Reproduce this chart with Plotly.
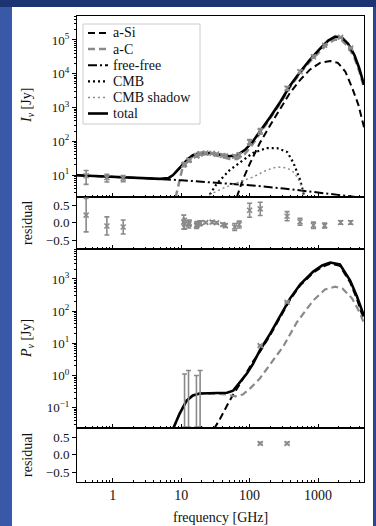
import plotly.graph_objects as go
from plotly.subplots import make_subplots

# ---------------- data (frequency in GHz, flux in Jy) ----------------
# total intensity model components
tot_f = [0.3, 1.0, 2.5, 4.9, 6.5, 7.6, 8.9, 10.5, 12.6, 14.8, 18.6, 26.3, 37, 51, 66, 85, 110, 141,
         200, 282, 389, 550, 760, 1070, 1410, 1780, 2240, 2750, 3390, 3980, 4700]
tot_I = [9.9, 9.0, 8.2, 7.7, 8.1, 10.0, 14.1, 20, 30, 39, 45, 45, 41, 36, 39, 55, 95, 190,
         525, 1480, 4400, 11500, 25700, 55000, 95500, 126000, 117000, 77600, 36300, 15100, 4700]

aC_f = [8.3, 9.1, 10.0, 10.5, 12.6, 14.8, 18.6, 26.3, 37, 51, 66, 85, 110, 141,
        200, 282, 389, 550, 760, 1070, 1410, 1780, 2240, 2750, 3390, 3980, 4700]
aC_I = [2.2, 5.0, 12, 17, 26, 35, 41, 41, 36, 30, 30, 42, 80, 165,
        470, 1350, 4000, 10500, 23000, 47000, 80000, 104000, 97000, 64000, 30000, 12500, 3900]

aSi_f = [65, 79, 102, 141, 200, 282, 389, 550, 760, 1070, 1510, 1950, 2510, 3160, 3890, 4700]
aSi_I = [2.2, 7.1, 23, 89, 300, 980, 2700, 6600, 13200, 21000, 24000, 21000, 11500, 3800, 1200, 260]

ff_f = [0.3, 1.0, 3.16, 10, 31.6, 100, 316, 1000, 3160, 4700]
ff_I = [9.8, 8.9, 8.0, 7.0, 6.0, 5.0, 4.0, 3.0, 2.3, 2.1]

cmb_f = [24, 33, 51, 72, 112, 178, 251, 355, 437, 550, 600, 640]
cmb_I = [2.0, 5.5, 14, 23, 45, 63, 63, 48, 23, 7.0, 3.0, 2.0]

shad_f = [22, 40, 71, 112, 178, 251, 355, 457, 550, 590, 620]
shad_I = [2.2, 4.0, 6.3, 8.7, 14, 17.4, 16.2, 11.5, 5.8, 3.0, 2.0]

# total intensity measurements and residuals
obs_f = [0.408, 0.82, 1.42, 10.9, 11.2, 12.9, 13.1, 16.8, 17.0, 18.7, 19.0, 22.8, 28.4, 32.9,
         40.6, 44.1, 60.5, 70.4, 100, 143, 353, 545, 857, 1249, 2141, 2998]
obs_I = [9.5, 8.4, 8.0, 20, 21, 27, 28, 37, 38, 42, 43, 45, 44, 42,
         38, 37, 36, 40, 95, 200, 3700, 11500, 32000, 70000, 120000, 58000]
obs_err = [4.2, 2.2, 1.6, 2.4, 2.0, 2.7, 2.2, 3.0, 3.0, 2.5, 2.6, 1.4, 1.8, 1.3,
           1.5, 1.8, 3.6, 4.0, 18, 38, 480, 1150, 2900, 4900, 6000, 2900]
res_I = [0.22, -0.09, -0.12, 0.02, -0.03, -0.05, 0.0, -0.08, -0.04, -0.02, 0.0, 0.01, 0.02, 0.0,
         -0.05, -0.08, -0.12, -0.05, 0.36, 0.40, 0.19, 0.03, -0.07, -0.08, 0.01, 0.01]
res_I_err = [0.48, 0.26, 0.2, 0.2, 0.15, 0.1, 0.08, 0.08, 0.08, 0.06, 0.06, 0.03, 0.04, 0.03,
             0.04, 0.05, 0.1, 0.1, 0.2, 0.19, 0.13, 0.1, 0.09, 0.07, 0.05, 0.05]

# polarized intensity model components
Ptot_f = [7.6, 9.5, 12.0, 14.8, 18.6, 28.8, 46.8, 57.5, 72.4, 91.2, 112, 141, 200, 282, 389,
          550, 851, 1150, 1510, 2090, 2950, 3720, 4700]
Ptot = [0.022, 0.066, 0.166, 0.24, 0.275, 0.275, 0.29, 0.34, 0.6, 1.15, 2.3, 6.0, 20, 72, 245,
        680, 1700, 2630, 3240, 2820, 890, 280, 70]

PaC_f = [7.6, 9.5, 12.0, 14.8, 18.6, 28.8, 44.7, 61.7, 79.4, 102, 141, 200, 309, 490, 851,
         1260, 1780, 2290, 3160, 4070, 4700]
PaC = [0.022, 0.066, 0.166, 0.24, 0.275, 0.275, 0.26, 0.224, 0.257, 0.40, 0.81, 2.3, 7.9, 45, 214,
       470, 575, 500, 245, 91, 42]

PaSi_f = [30.2, 37.2, 46.8, 57.5, 72.4, 91.2, 112, 141, 200, 282, 389, 550, 851, 1150, 1510,
          2090, 2950, 3720, 4700]
PaSi = [0.022, 0.046, 0.117, 0.257, 0.55, 1.3, 2.7, 5.4, 18, 66, 225, 630, 1550, 2400, 2950,
        2550, 780, 230, 52]

# polarization measurements (low-frequency ones are upper-bound bars) and residuals
Plim_f = [11.2, 12.8, 16.7, 18.9]
Plim_low = [0.025, 0.025, 0.025, 0.025]
Plim_top = [1.12, 1.43, 1.0, 1.43]
Pobs_f = [143, 353]
Pobs = [8.5, 190]
Pobs_err = [0.5, 8]
res_P = [0.32, 0.32]
res_P_err = [0.03, 0.03]

legend_labels = ["a-Si", "a-C", "free-free", "CMB", "CMB shadow", "total"]

# ---------------- figure ----------------
W, H = 376, 526
L, R, T, B = 77, 364, 16, 482


def px(x):
    return (x - L) / (R - L)


def py(y):
    return (B - y) / (B - T)


fig = make_subplots(rows=4, cols=1, shared_xaxes=True, vertical_spacing=0,
                    row_heights=[181, 52, 179, 54])

grey = "#8a8a8a"
serif = "Liberation Serif"
ink = "#111111"

# line styles, in legend order
styles = [
    dict(color="black", width=2, dash="7px,4px"),
    dict(color=grey, width=2.5, dash="7px,4px"),
    dict(color="black", width=2, dash="9px,3px,2px,3px"),
    dict(color="black", width=2.2, dash="2px,3px"),
    dict(color=grey, width=1.5, dash="2px,3px"),
    dict(color="black", width=2.6),
]

# model lines, panel 1
for fx, fy, name, st in zip([aSi_f, aC_f, ff_f, cmb_f, shad_f, tot_f],
                            [aSi_I, aC_I, ff_I, cmb_I, shad_I, tot_I], legend_labels, styles):
    fig.add_trace(go.Scatter(x=fx, y=fy, mode="lines", name=name, line=st), 1, 1)

# panel 3 model lines
fig.add_trace(go.Scatter(x=PaSi_f, y=PaSi, mode="lines", name="a-Si",
                         line=dict(color="black", width=2, dash="7px,4px")), 3, 1)
fig.add_trace(go.Scatter(x=PaC_f, y=PaC, mode="lines", name="a-C",
                         line=dict(color=grey, width=2.2, dash="7px,4px")), 3, 1)
fig.add_trace(go.Scatter(x=Ptot_f, y=Ptot, mode="lines", name="total",
                         line=dict(color="black", width=2.6)), 3, 1)

# data with error bars
mk = dict(color=grey, size=5, symbol="x-thin", line=dict(color=grey, width=1.5))
eb = dict(type="data", color=grey, thickness=1.6, width=2.5)
fig.add_trace(go.Scatter(x=obs_f, y=obs_I, mode="markers", marker=mk,
                         error_y=dict(array=obs_err, **eb)), 1, 1)
fig.add_trace(go.Scatter(x=obs_f, y=res_I, mode="markers", marker=mk,
                         error_y=dict(array=res_I_err, **eb)), 2, 1)
fig.add_trace(go.Scatter(x=Plim_f, y=Plim_low, mode="markers",
                         marker=dict(size=1, color="rgba(0,0,0,0)"),
                         error_y=dict(array=[t - b for t, b in zip(Plim_top, Plim_low)],
                                      arrayminus=[0] * len(Plim_low), **eb)), 3, 1)
fig.add_trace(go.Scatter(x=Pobs_f, y=Pobs, mode="markers", marker=mk,
                         error_y=dict(array=Pobs_err, **eb)), 3, 1)
fig.add_trace(go.Scatter(x=Pobs_f, y=res_P, mode="markers", marker=mk,
                         error_y=dict(array=res_P_err, **eb)), 4, 1)

# ---------------- axes ----------------
xtick_font = dict(family=serif, size=14, color=ink)
ytick_font = dict(family=serif, size=13, color=ink)
minor_x = [m * 10 ** d for d in range(-1, 4) for m in range(2, 10)]
for r in range(1, 5):
    fig.update_xaxes(type="log", range=[-0.523, 3.672], row=r, col=1,
                     tickvals=[1, 10, 100, 1000], ticktext=["1", "10", "100", "1000"],
                     ticks="inside", ticklen=4, tickcolor="black",
                     minor=dict(tickvals=minor_x, ticks="inside", ticklen=2, tickcolor="black"),
                     showline=True, linecolor="black", linewidth=1, mirror=True,
                     showgrid=False, zeroline=False, tickfont=xtick_font,
                     showticklabels=(r == 4))

minor_y1 = [m * 10 ** d for d in range(0, 6) for m in range(2, 10)]
fig.update_yaxes(type="log", range=[0.35, 5.71], row=1, col=1,
                 tickvals=[10, 100, 1e3, 1e4, 1e5],
                 ticktext=["10<sup>1</sup>", "10<sup>2</sup>", "10<sup>3</sup>", "10<sup>4</sup>", "10<sup>5</sup>"],
                 minor=dict(tickvals=minor_y1, ticks="outside", ticklen=2, tickcolor="black"))
minor_y3 = [m * 10 ** d for d in range(-2, 4) for m in range(2, 10)]
fig.update_yaxes(type="log", range=[-1.63, 3.93], row=3, col=1,
                 tickvals=[0.1, 1, 10, 100, 1000],
                 ticktext=["10<sup>−1</sup>", "10<sup>0</sup>", "10<sup>1</sup>", "10<sup>2</sup>", "10<sup>3</sup>"],
                 minor=dict(tickvals=minor_y3, ticks="outside", ticklen=2, tickcolor="black"))
fig.update_yaxes(range=[-0.75, 0.74], row=2, col=1)
fig.update_yaxes(range=[-0.78, 0.76], row=4, col=1)
for r in (2, 4):
    fig.update_yaxes(row=r, col=1, tickvals=[-0.5, 0, 0.5], ticktext=["−0.5", "0.0", "0.5"])
fig.update_yaxes(ticks="outside", ticklen=4, tickcolor="black", showline=True, linecolor="black",
                 linewidth=1, mirror=True, showgrid=False, zeroline=False, tickfont=ytick_font)

# ---------------- titles ----------------
title_font = dict(family=serif, size=14, color=ink)
ann = [
    dict(text="<i>I</i><sub><i>ν</i></sub> [Jy]", x=px(27), y=py(106)),
    dict(text="residual", x=px(27), y=py(223)),
    dict(text="<i>P</i><sub><i>ν</i></sub> [Jy]", x=px(27), y=py(339)),
    dict(text="residual", x=px(27), y=py(455)),
]
for a in ann:
    fig.add_annotation(xref="paper", yref="paper", textangle=-90, showarrow=False,
                       xanchor="center", yanchor="middle", font=title_font, **a)
fig.add_annotation(text="frequency [GHz]", xref="paper", yref="paper", x=px(220), y=py(517),
                   showarrow=False, xanchor="center", yanchor="middle", font=title_font)

# ---------------- legend box (matplotlib-style, compact) ----------------
fig.add_shape(type="rect", xref="paper", yref="paper", x0=px(83), x1=px(200), y0=py(124), y1=py(24),
              fillcolor="rgba(255,255,255,0.9)", line=dict(color="#cccccc", width=1), layer="above")
for i, (lab, st) in enumerate(zip(legend_labels, styles)):
    yy = py(33 + 16.1 * i)
    fig.add_shape(type="line", xref="paper", yref="paper", x0=px(88), x1=px(108), y0=yy, y1=yy,
                  line=st, layer="above")
    fig.add_annotation(text=lab, xref="paper", yref="paper", x=px(111), y=yy, showarrow=False,
                       xanchor="left", yanchor="middle", font=dict(family=serif, size=14, color=ink))

# ---------------- background card ----------------
fig.add_shape(type="rect", xref="paper", yref="paper", x0=px(-5), x1=px(381), y0=py(-5), y1=py(7),
              fillcolor="#1d3473", line_width=0, layer="below")
fig.add_shape(type="rect", xref="paper", yref="paper", x0=px(373), x1=px(381), y0=py(531), y1=py(7),
              fillcolor="#2b4792", line_width=0, layer="below")
fig.add_shape(type="rect", xref="paper", yref="paper", x0=px(12), x1=px(373), y0=py(531), y1=py(7),
              fillcolor="white", line_width=0, layer="below")

fig.update_layout(
    width=W, height=H, margin=dict(l=L, r=W - R, t=T, b=H - B),
    paper_bgcolor="#3a58a8", plot_bgcolor="white",
    font=dict(family=serif, size=13, color=ink),
    showlegend=False,
)

fig.write_html("out.html", config={"displayModeBar": False},
               post_script="document.body.style.margin='0';document.body.style.overflow='hidden';")
